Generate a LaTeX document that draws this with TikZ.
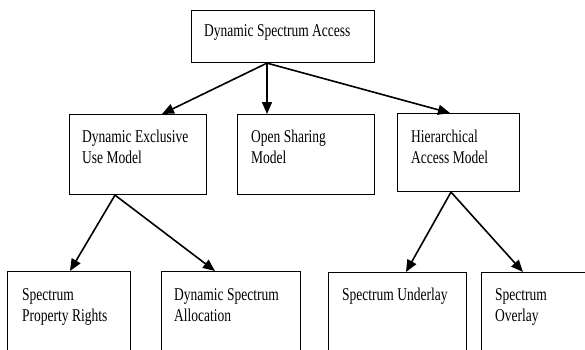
\documentclass[tikz,border=0pt]{standalone}
\usepackage{fontspec}
\setmainfont{Liberation Serif}[FakeStretch=0.75]
\usetikzlibrary{arrows.meta}
\newcommand\mylblspace{\spaceskip=3.4pt plus 1pt minus 1pt\relax}
\tikzset{
  box/.style={draw, line width=1.1pt, inner sep=0pt, anchor=north west},
  lbl/.style={inner sep=0pt, anchor=base west, align=left, text width=140pt,
    font=\fontsize{18}{21.5}\selectfont, execute at begin node=\mylblspace},
  conn/.style={line width=1.6pt, -{Triangle[length=12pt,width=10pt]}}
}
\begin{document}
\begin{tikzpicture}[x=1pt,y=-1pt]
\clip (0,0) rectangle (585,349);
\fill[white] (0,0) rectangle (585,349);
% boxes
\node[box, minimum width=183pt, minimum height=52pt] (T) at (191,10) {};
\node[box, minimum width=137pt, minimum height=80pt] (M1) at (69,114) {};
\node[box, minimum width=137pt, minimum height=80pt] (M2) at (237,114) {};
\node[box, minimum width=122pt, minimum height=78pt] (M3) at (397,113) {};
\node[box, minimum width=123pt, minimum height=100pt] (A) at (7,271) {};
\node[box, minimum width=139pt, minimum height=100pt] (B) at (161,271) {};
\node[box, minimum width=138pt, minimum height=100pt] (C) at (328,272) {};
\node[box, minimum width=130pt, minimum height=100pt] (D) at (481,272) {};
% texts
\node[lbl, text width=170pt] (tT) at (204,36) {Dynamic Spectrum Access};
\node[lbl] (tM1) at (82,142) {Dynamic Exclusive\\Use Model};
\node[lbl] (tM2) at (251,142) {Open Sharing\\Model};
\node[lbl] (tM3) at (411,142) {Hierarchical\\Access Model};
\node[lbl] (tA) at (22,300) {Spectrum\\Property Rights};
\node[lbl] (tB) at (174,300) {Dynamic Spectrum\\Allocation};
\node[lbl] (tC) at (342,300) {Spectrum Underlay};
\node[lbl] (tD) at (495,300) {Spectrum\\Overlay};
% connectors
\draw[conn] ([xshift=76pt]T.south west) -- ([xshift=93pt]M1.north west);
\draw[conn] ([xshift=76pt]T.south west) -- ([xshift=30pt]M2.north west);
\draw[conn] ([xshift=76pt]T.south west) -- ([xshift=53pt]M3.north west);
\draw[conn] ([xshift=46pt]M1.south west) -- ([xshift=63pt]A.north west);
\draw[conn] ([xshift=46pt]M1.south west) -- ([xshift=54pt]B.north west);
\draw[conn] ([xshift=54pt]M3.south west) -- ([xshift=78pt]C.north west);
\draw[conn] ([xshift=54pt]M3.south west) -- ([xshift=42pt]D.north west);
\end{tikzpicture}
\end{document}
